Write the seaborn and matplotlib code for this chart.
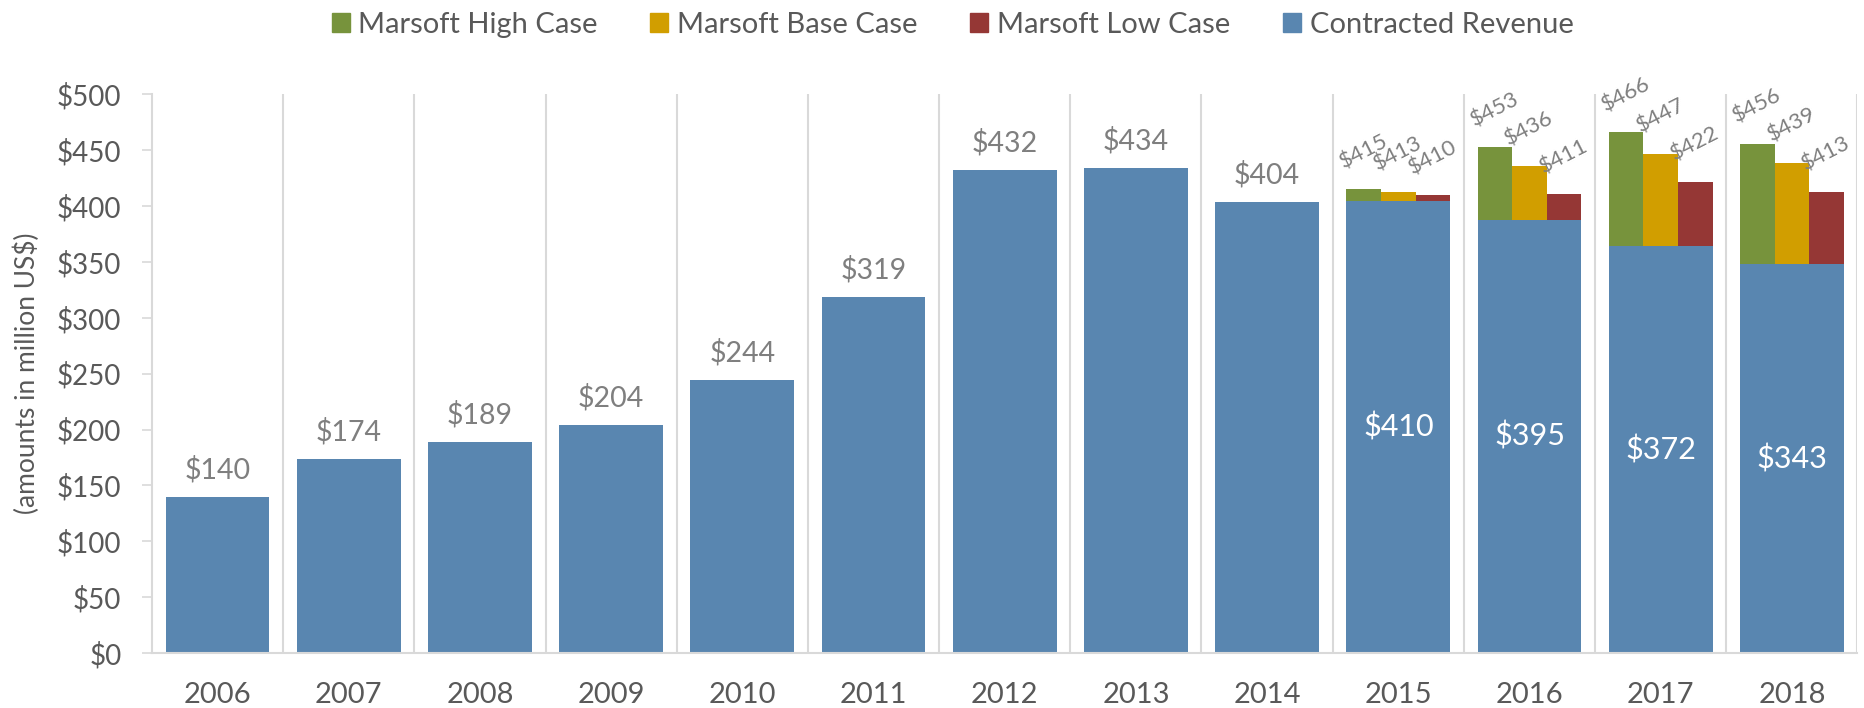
import matplotlib
matplotlib.use("Agg")
import matplotlib.pyplot as plt
import seaborn as sns
from matplotlib.patches import Patch

years = ["2006", "2007", "2008", "2009", "2010", "2011", "2012",
         "2013", "2014", "2015", "2016", "2017", "2018"]
# height of the blue bars as drawn
contracted = [140, 174, 189, 204, 244, 319, 432, 434, 404, 405, 388, 364, 348]
# labels shown on the blue bars
contracted_labels = ["$140", "$174", "$189", "$204", "$244", "$319", "$432",
                     "$434", "$404", "$410", "$395", "$372", "$343"]

forecast_years = ["2015", "2016", "2017", "2018"]
high_case = [415, 453, 466, 456]
base_case = [413, 436, 447, 439]
low_case = [410, 411, 422, 413]

BLUE = "#5986B0"
GREEN = "#77933C"
GOLD = "#D19E00"
RED = "#953735"
GRID = "#D9D9D9"
TEXT = "#595959"
LABEL = "#7F7F7F"

sns.set_theme(style="white")
plt.rcParams["font.family"] = ["Lato", "DejaVu Sans"]

fig = plt.figure(figsize=(18.64, 7.08), dpi=100)
ax = fig.add_axes([0.0815, 0.0777, 0.915, 0.789])

bar_w = 0.79
sns.barplot(x=years, y=contracted, color=BLUE, width=bar_w, saturation=1,
            linewidth=0, ax=ax)

# forecast cases, three side-by-side segments stacked on the blue bar
sub_w = bar_w / 3
cases = [(high_case, GREEN, -1), (base_case, GOLD, 0), (low_case, RED, 1)]
for k, fy in enumerate(forecast_years):
    i = years.index(fy)
    base = contracted[i]
    for vals, col, off in cases:
        xc = i + off * sub_w
        ax.bar(xc, vals[k] - base, bottom=base, width=sub_w, color=col,
               linewidth=0)
        ax.text(xc, vals[k] + 15, f"${vals[k]}", rotation=27,
                ha="center", va="bottom", fontsize=16, color=LABEL)

# labels for the blue bars
for i, y in enumerate(years):
    if y in forecast_years:
        ax.text(i, contracted[i] / 2, contracted_labels[i], ha="center",
                va="center", fontsize=22, color="white")
    else:
        ax.text(i, contracted[i] + 12, contracted_labels[i], ha="center",
                va="bottom", fontsize=20.5, color=LABEL)

ax.set_xlim(-0.5, len(years) - 0.5)
ax.set_ylim(0, 500)
ax.set_yticks(range(0, 501, 50))
ax.set_yticklabels([f"${v}" for v in range(0, 501, 50)])
ax.tick_params(axis="y", labelsize=20, labelcolor=TEXT, length=7, width=1.2,
               color=GRID, left=True, pad=15)
ax.tick_params(axis="x", labelsize=21, labelcolor=TEXT, length=0, pad=21)

# vertical separators between categories
for b in range(1, len(years) + 1):
    ax.axvline(b - 0.5, color=GRID, lw=1.5, zorder=0)

for side in ["top", "right"]:
    ax.spines[side].set_visible(False)
ax.spines["left"].set_color(GRID)
ax.spines["left"].set_linewidth(1.5)
ax.spines["bottom"].set_color(GRID)
ax.spines["bottom"].set_linewidth(1.5)
ax.set_xlabel("")
ax.set_ylabel("(amounts in million US$)", fontsize=19, color=TEXT, labelpad=12)

handles = [Patch(color=GREEN, label="Marsoft High Case"),
           Patch(color=GOLD, label="Marsoft Base Case"),
           Patch(color=RED, label="Marsoft Low Case"),
           Patch(color=BLUE, label="Contracted Revenue")]
leg = fig.legend(handles=handles, loc="upper center", ncol=4, frameon=False,
                 bbox_to_anchor=(0.511, 1.02), fontsize=21, handlelength=0.62,
                 handleheight=0.62, handletextpad=0.3, columnspacing=1.8)
for t in leg.get_texts():
    t.set_color(TEXT)

fig.savefig("out.png", dpi=100)
